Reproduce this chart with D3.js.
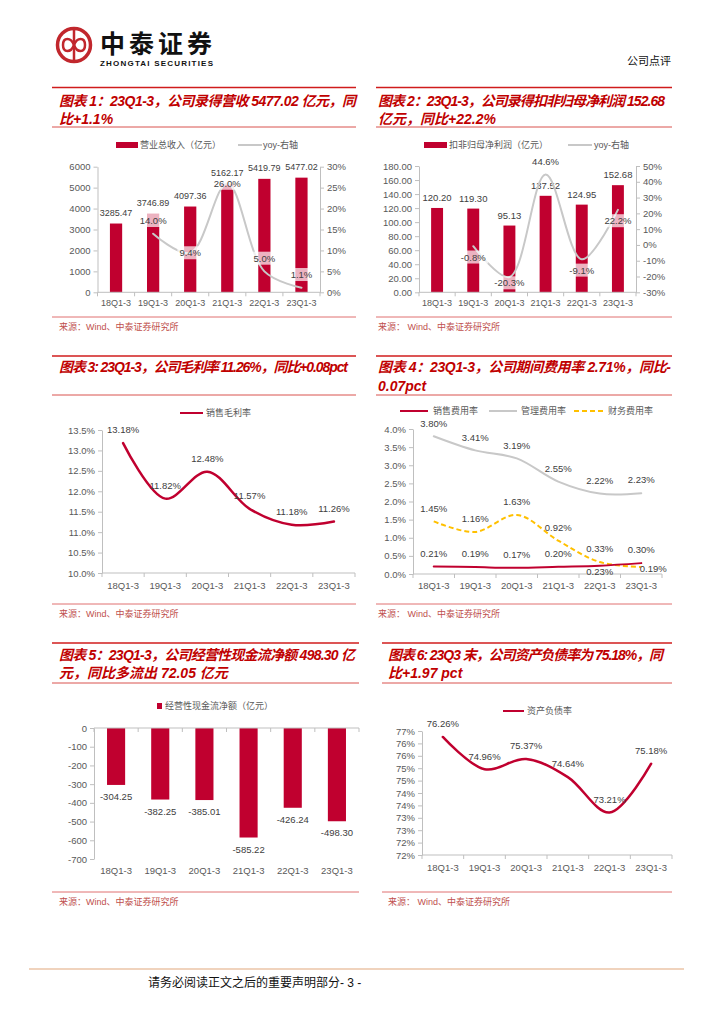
<!DOCTYPE html>
<html lang="zh">
<head>
<meta charset="UTF-8">
<title>中泰证券 公司点评</title>
<script src="https://d3js.org/d3.v7.min.js"></script>
<style>
  body { margin: 0; background: #fff; }
  svg { display: block; font-family: "Liberation Sans", Arial, "Noto Sans CJK SC", sans-serif; }
  .title { fill: #c00000; font-weight: bold; font-style: italic; font-size: 14px; }
  .src { fill: #c0504d; font-size: 9px; }
  .legend { fill: #595959; font-size: 9px; }
  .axis text { fill: #595959; font-size: 9.5px; }
  .cat { fill: #595959; font-size: 9.5px; }
  .lbl { fill: #404040; font-size: 9.5px; }
</style>
</head>
<body>
<div id="page"></div>
<script>
// ---- data ----
const categories = ["18Q1-3", "19Q1-3", "20Q1-3", "21Q1-3", "22Q1-3", "23Q1-3"];
const revenue = [3285.47, 3746.89, 4097.36, 5162.17, 5419.79, 5477.02];
const revenueYoy = [null, 14.0, 9.4, 26.0, 5.0, 1.1];
const netProfit = [120.20, 119.30, 95.13, 137.52, 124.95, 152.68];
const netProfitYoy = [null, -0.8, -20.3, 44.6, -9.1, 22.2];
const grossMargin = [13.18, 11.82, 12.48, 11.57, 11.18, 11.26];
const salesRate = [0.21, 0.19, 0.17, 0.20, 0.23, 0.30];
const adminRate = [3.80, 3.41, 3.19, 2.55, 2.22, 2.23];
const finRate = [1.45, 1.16, 1.63, 0.92, 0.33, 0.19];
const cashFlow = [-304.25, -382.25, -385.01, -585.22, -426.24, -498.30];
const debtRatio = [76.26, 74.96, 75.37, 74.64, 73.21, 75.18];

const revTicks = [0, 1000, 2000, 3000, 4000, 5000, 6000];
const revYoyTicks = [0, 5, 10, 15, 20, 25, 30];
const profitTicks = [0, 20, 40, 60, 80, 100, 120, 140, 160, 180];
const profitYoyTicks = [-30, -20, -10, 0, 10, 20, 30, 40, 50];
const marginTicks = [10.0, 10.5, 11.0, 11.5, 12.0, 12.5, 13.0, 13.5];
const expenseTicks = [0, 0.5, 1.0, 1.5, 2.0, 2.5, 3.0, 3.5, 4.0];
const cashTicks = [0, -100, -200, -300, -400, -500, -600, -700];
const debtTicks = [71.5, 72, 72.5, 73, 73.5, 74, 74.5, 75, 75.5, 76, 76.5];

// label placement (t = above, b = below, s = slightly below, c = centred, r = right)
const yoyPos1 = ["", "t", "c", "c", "t", "t"];
const yoyPos2 = ["", "b", "s", "t", "b", "b"];
const salesPos = ["t", "t", "t", "t", "s", "t"];
const finPos = ["t", "t", "t", "t", "t", "r"];

const RED = "#c0002f", GRAY = "#c8c8c8", GOLD = "#ffc000", AX = "#bfbfbf";
const SOURCE = "来源：Wind、中泰证券研究所";
const SOURCE2 = "来源：  Wind、中泰证券研究所";

const svg = d3.select("#page").append("svg").attr("width", 724).attr("height", 1024);

// ---- header ----
const logo = svg.append("g");
logo.append("circle").attr("cx", 74).attr("cy", 45).attr("r", 16.5)
  .attr("fill", "none").attr("stroke", "#c1272d").attr("stroke-width", 3.5);
logo.append("line").attr("x1", 74).attr("x2", 74).attr("y1", 30).attr("y2", 60)
  .attr("stroke", "#c1272d").attr("stroke-width", 2.5);
logo.append("path")
  .attr("d", "M63 45 C63 37,71 37,74 45 C77 53,85 53,85 45 C85 37,77 37,74 45 C71 53,63 53,63 45 Z")
  .attr("fill", "none").attr("stroke", "#c1272d").attr("stroke-width", 2.5);
svg.append("text").attr("x", 100).attr("y", 53).attr("textLength", 112)
  .style("font-size", "25px").style("font-weight", "bold").style("font-family", "Noto Sans CJK SC")
  .attr("fill", "#111").text("中泰证券");
svg.append("text").attr("x", 100).attr("y", 66).attr("textLength", 113)
  .style("font-size", "8px").style("font-weight", "bold").attr("fill", "#111").text("ZHONGTAI SECURITIES");
svg.append("text").attr("x", 671).attr("y", 65).attr("text-anchor", "end")
  .style("font-size", "11px").attr("fill", "#111").text("公司点评");

// ---- footer ----
svg.append("line").attr("x1", 29).attr("x2", 684).attr("y1", 969).attr("y2", 969)
  .attr("stroke", "#f0d3bd").attr("stroke-width", 2);
svg.append("text").attr("x", 148).attr("y", 987).style("font-size", "12px")
  .attr("fill", "#111").text("请务必阅读正文之后的重要声明部分- 3 -");

// ---- helpers ----
function frame(p) {
  svg.append("line").attr("x1", p.x0).attr("x2", p.x1).attr("y1", p.top).attr("y2", p.top)
    .attr("stroke", "#d01c1c").attr("stroke-width", 1.6);
  p.title.forEach((t, i) => {
    const el = svg.append("text").attr("class", "title").attr("x", p.tx).attr("y", p.ty[i]).text(t);
    if (i === 0 && p.tl) el.attr("textLength", p.tl).attr("lengthAdjust", "spacing");
  });
  svg.append("line").attr("x1", p.x0).attr("x2", p.x1).attr("y1", p.under).attr("y2", p.under)
    .attr("stroke", "#d9534f").attr("stroke-width", 1);
  svg.append("line").attr("x1", p.x0).attr("x2", p.x1).attr("y1", p.bottom).attr("y2", p.bottom)
    .attr("stroke", "#e07070").attr("stroke-width", 1);
  svg.append("text").attr("class", "src").attr("x", p.tx).attr("y", p.bottom + 13).text(p.src);
}

function catAxis(x, y, labelY, size) {
  const [a, b] = x.range();
  svg.append("line").attr("x1", a).attr("x2", b).attr("y1", y).attr("y2", y).attr("stroke", AX);
  d3.range(categories.length + 1).forEach(i => {
    const xx = a + i * x.step();
    svg.append("line").attr("x1", xx).attr("x2", xx).attr("y1", y).attr("y2", y + 4).attr("stroke", AX);
  });
  svg.append("g").selectAll("text").data(categories).join("text")
    .attr("class", "cat").attr("text-anchor", "middle").style("font-size", size || null)
    .attr("x", d => x(d) + x.bandwidth() / 2).attr("y", labelY).text(d => d);
}

function valAxis(axis, xPos) {
  const g = svg.append("g").attr("class", "axis").attr("transform", `translate(${xPos},0)`)
    .call(axis.tickSize(4).tickSizeOuter(0).tickPadding(3));
  g.select(".domain").attr("stroke", AX);
  g.selectAll(".tick line").attr("stroke", AX);
  g.selectAll("text").style("font-family", "Liberation Sans, Arial, sans-serif");
  return g;
}

const cx = (x, i) => x(categories[i]) + x.bandwidth() / 2;
const DY = { t: -13, b: 11, s: 6, c: 0, r: 2 };
const DX = { t: 0, b: 0, s: 0, c: 0, r: 12 };

function pointLabels(x, y, vals, pos, fmt, boxed) {
  const g = svg.append("g");
  vals.forEach((v, i) => {
    if (v == null) return;
    const p = pos ? pos[i] : "t";
    const lx = cx(x, i) + DX[p], ly = y(v) + DY[p];
    const box = boxed ? g.append("rect") : null;
    const t = g.append("text").attr("class", "lbl").attr("text-anchor", "middle")
      .attr("x", lx).attr("y", ly).attr("dy", "0.35em").text(fmt(v));
    if (boxed) {
      const bb = t.node().getBBox();
      box.attr("x", bb.x - 2).attr("y", bb.y - 1).attr("width", bb.width + 4).attr("height", bb.height + 2)
        .attr("fill", "#fff").attr("fill-opacity", 0.7);
    }
  });
}

function smoothLine(x, y, vals, color, width, dash) {
  const pts = vals.map((v, i) => [cx(x, i), v]).filter(d => d[1] != null);
  svg.append("path").datum(pts)
    .attr("d", d3.line().x(d => d[0]).y(d => y(d[1])).curve(d3.curveCatmullRom.alpha(0.5)))
    .attr("fill", "none").attr("stroke", color).attr("stroke-width", width)
    .attr("stroke-dasharray", dash || null).attr("stroke-linecap", dash ? "butt" : "round");
}

function legendItem(kind, x0, x1, y, color, text, tx, dash) {
  if (kind === "rect") {
    svg.append("rect").attr("x", x0).attr("y", y - 3).attr("width", x1 - x0).attr("height", 6).attr("fill", color);
  } else {
    svg.append("line").attr("x1", x0).attr("x2", x1).attr("y1", y).attr("y2", y)
      .attr("stroke", color).attr("stroke-width", 2).attr("stroke-dasharray", dash || null);
  }
  svg.append("text").attr("class", "legend").attr("x", tx).attr("y", y).attr("dy", "0.35em").text(text);
}

const pct1 = v => v.toFixed(1) + "%";
const pct2 = v => v.toFixed(2) + "%";
const f2 = v => v.toFixed(2);

// ---- chart 1: revenue ----
frame({ x0: 52, x1: 356, top: 87.5, tx: 59, ty: [105.5, 123.5], tl: 297, under: 127, bottom: 317,
  title: ["图表 1：23Q1-3，公司录得营收 5477.02 亿元，同", "比+1.1%"], src: SOURCE });
{
  const x = d3.scaleBand().domain(categories).range([97.5, 320]);
  const y = d3.scaleLinear().domain([0, 6000]).range([292.3, 166.7]);
  const y2 = d3.scaleLinear().domain([0, 30]).range([292.3, 166.7]);
  legendItem("rect", 116, 138, 145, RED, "营业总收入（亿元）", 140);
  legendItem("line", 238, 262, 145, GRAY, "yoy-右轴", 263);
  valAxis(d3.axisLeft(y).tickValues(revTicks).tickFormat(String), 97.5);
  valAxis(d3.axisRight(y2).tickValues(revYoyTicks).tickFormat(d => d + "%"), 320);
  const bw = x.step() * 0.33;
  svg.append("g").selectAll("rect").data(revenue).join("rect")
    .attr("x", (d, i) => cx(x, i) - bw / 2).attr("y", d => y(d))
    .attr("width", bw).attr("height", d => y(0) - y(d)).attr("fill", RED);
  catAxis(x, 292.3, 306, "9px");
  svg.append("g").selectAll("text").data(revenue).join("text").attr("class", "lbl")
    .style("font-size", "9px")
    .attr("text-anchor", "middle").attr("x", (d, i) => cx(x, i)).attr("y", d => y(d) - 8).text(f2);
  smoothLine(x, y2, revenueYoy, GRAY, 2);
  pointLabels(x, y2, revenueYoy, yoyPos1, pct1, true);
}

// ---- chart 2: net profit ----
frame({ x0: 376, x1: 672, top: 87.5, tx: 378, ty: [105.5, 123.5], tl: 287, under: 127, bottom: 317,
  title: ["图表 2：23Q1-3，公司录得扣非归母净利润 152.68", "亿元，同比+22.2%"], src: SOURCE2 });
{
  const x = d3.scaleBand().domain(categories).range([419, 636]);
  const y = d3.scaleLinear().domain([0, 180]).range([292.3, 166]);
  const y2 = d3.scaleLinear().domain([-30, 50]).range([292.3, 166]);
  legendItem("rect", 424, 447, 145, RED, "扣非归母净利润（亿元）", 449);
  legendItem("line", 568, 592, 145, GRAY, "yoy-右轴", 594);
  valAxis(d3.axisLeft(y).tickValues(profitTicks).tickFormat(f2), 419);
  valAxis(d3.axisRight(y2).tickValues(profitYoyTicks).tickFormat(d => d + "%"), 636);
  const bw = x.step() * 0.33;
  svg.append("g").selectAll("rect").data(netProfit).join("rect")
    .attr("x", (d, i) => cx(x, i) - bw / 2).attr("y", d => y(d))
    .attr("width", bw).attr("height", d => y(0) - y(d)).attr("fill", RED);
  catAxis(x, 292.3, 306, "9px");
  svg.append("g").selectAll("text").data(netProfit).join("text").attr("class", "lbl")
    .attr("text-anchor", "middle").attr("x", (d, i) => cx(x, i)).attr("y", d => y(d) - 7).text(f2);
  smoothLine(x, y2, netProfitYoy, GRAY, 2);
  pointLabels(x, y2, netProfitYoy, yoyPos2, pct1, true);
}

// ---- chart 3: gross margin ----
frame({ x0: 52, x1: 356, top: 356, tx: 59, ty: [372], tl: 289, under: 395, bottom: 604,
  title: ["图表 3: 23Q1-3，公司毛利率 11.26%，同比+0.08pct"], src: SOURCE });
{
  const x = d3.scaleBand().domain(categories).range([102, 355]);
  const y = d3.scaleLinear().domain([10, 13.5]).range([573, 430]);
  legendItem("line", 180, 203, 413, RED, "销售毛利率", 206);
  valAxis(d3.axisLeft(y).tickValues(marginTicks).tickFormat(pct1), 102);
  catAxis(x, 573, 589);
  smoothLine(x, y, grossMargin, RED, 2.5);
  pointLabels(x, y, grossMargin, null, pct2, false);
}

// ---- chart 4: expense ratios ----
frame({ x0: 376, x1: 672, top: 356, tx: 378, ty: [372, 391], tl: 293, under: 395, bottom: 604,
  title: ["图表 4：23Q1-3，公司期间费用率 2.71%，同比-", "0.07pct"], src: SOURCE2 });
{
  const x = d3.scaleBand().domain(categories).range([413, 662]);
  const y = d3.scaleLinear().domain([0, 4]).range([574, 429]);
  legendItem("line", 400, 428, 411, RED, "销售费用率", 433);
  legendItem("line", 489, 517, 411, GRAY, "管理费用率", 521);
  legendItem("line", 574, 605, 411, GOLD, "财务费用率", 608, "5,3");
  valAxis(d3.axisLeft(y).tickValues(expenseTicks).tickFormat(pct1), 413);
  catAxis(x, 574, 589);
  smoothLine(x, y, adminRate, GRAY, 2);
  smoothLine(x, y, finRate, GOLD, 2, "5,3");
  smoothLine(x, y, salesRate, RED, 2);
  pointLabels(x, y, adminRate, null, pct2, false);
  pointLabels(x, y, finRate, finPos, pct2, false);
  pointLabels(x, y, salesRate, salesPos, pct2, false);
}

// ---- chart 5: operating cash flow ----
frame({ x0: 52, x1: 359, top: 643, tx: 59, ty: [660, 678], tl: 296, under: 683, bottom: 892,
  title: ["图表 5：23Q1-3，公司经营性现金流净额 498.30 亿", "元，同比多流出 72.05 亿元"], src: SOURCE });
{
  const x = d3.scaleBand().domain(categories).range([94, 359]);
  const y = d3.scaleLinear().domain([-700, 0]).range([859, 728]);
  legendItem("rect", 157, 162, 706, RED, "经营性现金流净额（亿元）", 165);
  valAxis(d3.axisLeft(y).tickValues(cashTicks).tickFormat(String), 94);
  const bw = x.step() * 0.41;
  svg.append("g").selectAll("rect").data(cashFlow).join("rect")
    .attr("x", (d, i) => cx(x, i) - bw / 2).attr("y", y(0))
    .attr("width", bw).attr("height", d => y(d) - y(0)).attr("fill", RED);
  catAxis(x, 728, 874);
  svg.append("g").selectAll("text").data(cashFlow).join("text").attr("class", "lbl")
    .attr("text-anchor", "middle").attr("x", (d, i) => cx(x, i)).attr("y", d => y(d) + 15).text(f2);
}

// ---- chart 6: debt ratio ----
frame({ x0: 382, x1: 672, top: 643, tx: 388, ty: [660, 678], tl: 275, under: 683, bottom: 892,
  title: ["图表 6: 23Q3 末，公司资产负债率为 75.18%，同", "比+1.97 pct"], src: SOURCE2 });
{
  const x = d3.scaleBand().domain(categories).range([422, 672]);
  const y = d3.scaleLinear().domain([71.5, 76.5]).range([855, 731]);
  legendItem("line", 503, 524, 711, RED, "资产负债率", 527);
  valAxis(d3.axisLeft(y).tickValues(debtTicks).tickFormat(d => Math.round(d) + "%"), 422);
  catAxis(x, 855, 871);
  smoothLine(x, y, debtRatio, RED, 2.5);
  pointLabels(x, y, debtRatio, null, pct2, false);
}
</script>
</body>
</html>
